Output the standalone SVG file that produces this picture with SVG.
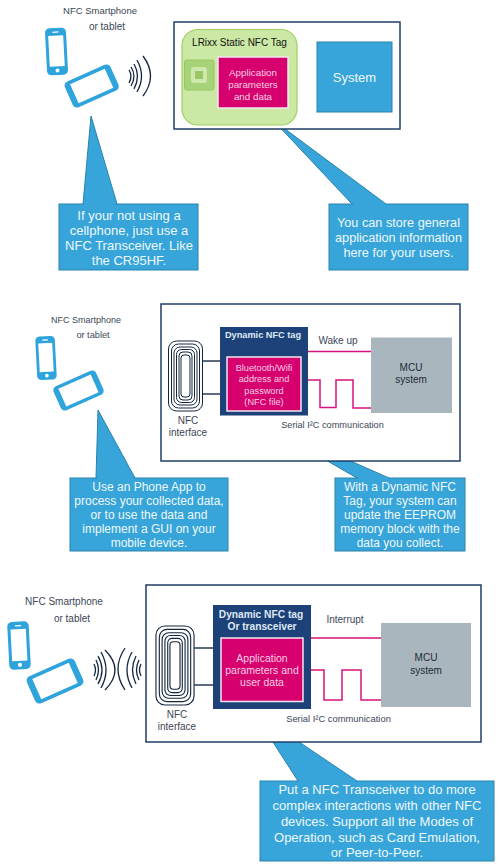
<svg xmlns="http://www.w3.org/2000/svg" xmlns:xlink="http://www.w3.org/1999/xlink" width="500" height="868" viewBox="0 0 500 868">
<style>
text{font-family:"Liberation Sans",Arial,sans-serif;text-anchor:middle}
.frame{fill:#fff;stroke:#1f3f66;stroke-width:1.5}
.call{fill:#37a5da;stroke:#2a83ad;stroke-width:1}
.ct{fill:#eef8fc;font-size:13px}
.cs{fill:#eef8fc;font-size:12px}
.lbl{fill:#3c4656;font-size:10px}
.lb9{fill:#3c4656;font-size:9.2px}
.dark{fill:#1c4279}
.mag{fill:#d6006f;stroke:#f2e6ee;stroke-width:1.5}
.mt{fill:#f6cfe2;font-size:10.5px}
.mt9{fill:#f6cfe2;font-size:9.2px}
.mcu{fill:#a9b6be}
.wire{fill:none;stroke:#2a3a55;stroke-width:1.5}
.pink{fill:none;stroke:#d6127f;stroke-width:1.5}
.wave{fill:none;stroke:#14263f;stroke-width:1.3}
.coil{fill:none;stroke:#14263f;stroke-width:1}
</style>
<defs>
<g id="phone">
<rect x="-10.500" y="-23.500" width="21" height="47" rx="4.500" fill="#2ea3dc"/>
<rect x="-7.500" y="-16" width="15" height="31" fill="#fff"/>
<circle cx="0" cy="19" r="2" fill="#fff"/>
<rect x="-3" y="-20" width="6" height="1.200" fill="#fff"/>
</g>
<g id="tablet">
<rect x="-25" y="-14" width="50" height="28" rx="4.500" fill="#2ea3dc"/>
<rect x="-19" y="-10.500" width="38" height="21" fill="#fff"/>
</g>
<g id="coil">
<rect x="-17" y="-35" width="34" height="70" rx="8" class="coil"/>
<rect x="-14" y="-32" width="28" height="64" rx="7" class="coil"/>
<rect x="-11.500" y="-29" width="23" height="58" rx="6" class="coil"/>
<rect x="-9" y="-26.500" width="18" height="53" rx="5" class="coil"/>
<rect x="-6.500" y="-24" width="13" height="48" rx="4" class="coil"/>
<rect x="-4.500" y="-21" width="9" height="42" rx="3" class="coil"/>
</g>
</defs>

<g id="connectors">
<path class="call" d="M91 116L83 204H117Z"/>
<path class="call" d="M273 120L352 204H386Z"/>
<path class="call" d="M98 410L96 478H135Z"/>
<path class="call" d="M251 417L357 478H389Z"/>
<path class="call" d="M253 711L298 781H357Z"/>
</g>

<g id="panel1">
<rect class="frame" x="174" y="22" width="226" height="107"/>
</g>
<g id="static-tag">
<rect x="182" y="29.500" width="115" height="95.500" rx="16" fill="#cbe8a4" stroke="#9fcf63" stroke-width="1.200"/>
<text x="239.500" y="46" font-size="10" fill="#111">LRixx Static NFC Tag</text>
</g>
<g id="chip">
<rect x="184.500" y="60" width="29.500" height="30" rx="2" fill="#a8d277" stroke="#97c866"/>
<rect x="191" y="67" width="16" height="16" rx="3" fill="#cfe8ad"/>
<rect x="195" y="71" width="8" height="8" fill="#9cc766"/>
</g>
<g id="app-data">
<rect class="mag" x="218" y="57" width="70" height="51"/>
<text class="mt" style="font-size:9.800px" x="253" y="76">Application</text>
<text class="mt" style="font-size:9.800px" x="253" y="87.500">parameters</text>
<text class="mt" style="font-size:9.800px" x="253" y="99.500">and data</text>
</g>
<g id="system">
<rect x="317" y="42" width="75" height="70" fill="#37a5da" stroke="#2a83ad"/>
<text x="354.500" y="82" font-size="13" fill="#eef8fc">System</text>
</g>
<g id="devices1">
<text class="lbl" style="font-size:9.500px" x="100" y="14">NFC Smartphone</text>
<text class="lbl" x="107" y="30">or tablet</text>
<use xlink:href="#phone" href="#phone" transform="translate(56.500 51.500) rotate(-3)"/>
<use xlink:href="#tablet" href="#tablet" transform="translate(91.700 86) rotate(-24)"/>
<path class="wave" d="M129 70Q133 76 129 83"/>
<path class="wave" d="M131 67Q137 76 131 86"/>
<path class="wave" d="M134 64Q141 76 134 89"/>
<path class="wave" d="M137 60Q146 76 137 92"/>
<path class="wave" d="M143 56Q158 76 143 96"/>
</g>
<g id="callout1">
<rect class="call" x="59" y="204" width="139" height="66"/>
<path fill="#37a5da" d="M84 203H116V205H84Z"/>
<text class="ct" x="129" y="220">If your not using a</text>
<text class="ct" x="129" y="235">cellphone, just use a</text>
<text class="ct" x="129" y="250">NFC Transceiver. Like</text>
<text class="ct" x="129" y="265">the CR95HF.</text>
</g>
<g id="callout2">
<rect class="call" x="329" y="204" width="139" height="66"/>
<path fill="#37a5da" d="M353 203H385V205H353Z"/>
<text class="ct" style="font-size:12.700px" x="398.500" y="227">You can store general</text>
<text class="ct" style="font-size:12.700px" x="398.500" y="242">application information</text>
<text class="ct" style="font-size:12.700px" x="398.500" y="257">here for your users.</text>
</g>

<g id="panel2">
<rect class="frame" x="161" y="304" width="299" height="157"/>
</g>
<g id="coil2">
<use xlink:href="#coil" href="#coil" transform="translate(185.500 376)"/>
<text class="lbl" x="188" y="424">NFC</text>
<text class="lbl" x="188" y="436">interface</text>
<path class="wire" d="M203 361H220M203 394H220"/>
</g>
<g id="dyn-tag">
<rect class="dark" x="220" y="327" width="88" height="88.500"/>
<text x="263" y="338" font-size="9.200" font-weight="bold" fill="#dfe8f2">Dynamic NFC tag</text>
<rect class="mag" x="227" y="357" width="74" height="54"/>
<text class="mt9" x="264" y="371">Bluetooth/Wifi</text>
<text class="mt9" x="264" y="382">address and</text>
<text class="mt9" x="264" y="393.500">password</text>
<text class="mt9" x="264" y="404.500">(NFC file)</text>
</g>
<g id="mcu2">
<rect class="mcu" x="371" y="337.500" width="81" height="75.500"/>
<text x="411" y="371" font-size="10" fill="#222b36">MCU</text>
<text x="411" y="383" font-size="10" fill="#222b36">system</text>
</g>
<g id="signals2">
<path class="pink" d="M308 351.500H371"/>
<path class="pink" d="M308 380H320V407.500H336V380H353V408H371"/>
<text class="lbl" x="338" y="344">Wake up</text>
<text class="lb9" x="332.500" y="428">Serial I²C communication</text>
</g>
<g id="devices2">
<text class="lb9" style="font-size:9px" x="86" y="323">NFC Smartphone</text>
<text class="lb9" x="93" y="338">or tablet</text>
<use xlink:href="#phone" href="#phone" transform="translate(46 358) rotate(-3) scale(.93)"/>
<use xlink:href="#tablet" href="#tablet" transform="translate(78.500 390.500) rotate(-24) scale(.93)"/>
</g>
<g id="callout3">
<rect class="call" x="70" y="478" width="158" height="73"/>
<path fill="#37a5da" d="M97 477H134V479H97Z"/>
<text class="cs" x="149" y="491">Use an Phone App to</text>
<text class="cs" x="149" y="505">process your collected data,</text>
<text class="cs" x="149" y="519">or to use the data and</text>
<text class="cs" x="149" y="533">implement a GUI on your</text>
<text class="cs" x="149" y="547">mobile device.</text>
</g>
<g id="callout4">
<rect class="call" x="335" y="478" width="130" height="73"/>
<path fill="#37a5da" d="M358 477H388V479H358Z"/>
<text class="cs" x="400" y="491">With a Dynamic NFC</text>
<text class="cs" x="400" y="505">Tag, your system can</text>
<text class="cs" x="400" y="519">update the EEPROM</text>
<text class="cs" x="400" y="533">memory block with the</text>
<text class="cs" x="400" y="547">data you collect.</text>
</g>

<g id="panel3">
<rect class="frame" x="146" y="585" width="335" height="157"/>
</g>
<g id="coil3">
<use xlink:href="#coil" href="#coil" transform="translate(175 665.500) scale(1.120 1.130)"/>
<text class="lbl" x="177" y="718">NFC</text>
<text class="lbl" x="177" y="730">interface</text>
<path class="wire" d="M194 648H213M194 685H213"/>
</g>
<g id="dyn-tag3">
<rect class="dark" x="213" y="605" width="98" height="104"/>
<text x="261" y="618" font-size="10.200" font-weight="bold" fill="#dfe8f2">Dynamic NFC tag</text>
<text x="262" y="630" font-size="10.200" font-weight="bold" fill="#dfe8f2">Or transceiver</text>
<rect class="mag" x="221" y="638" width="82" height="63.500"/>
<text class="mt" x="262" y="662">Application</text>
<text class="mt" x="262" y="674">parameters and</text>
<text class="mt" x="262" y="686">user data</text>
</g>
<g id="mcu3">
<rect class="mcu" x="381" y="623" width="90" height="84"/>
<text x="426" y="661" font-size="10" fill="#222b36">MCU</text>
<text x="426" y="674" font-size="10" fill="#222b36">system</text>
</g>
<g id="signals3">
<path class="pink" d="M311 638H381"/>
<path class="pink" d="M311 670H324V700H342V670H361V700H381"/>
<text class="lbl" x="345" y="623">Interrupt</text>
<text class="lb9" style="font-size:9.400px" x="338.500" y="722">Serial I²C communication</text>
</g>
<g id="devices3">
<text class="lbl" x="64" y="605">NFC Smartphone</text>
<text class="lbl" x="72" y="622">or tablet</text>
<use xlink:href="#phone" href="#phone" transform="translate(19 645.500) rotate(-3) scale(1.020)"/>
<use xlink:href="#tablet" href="#tablet" transform="translate(55 681) rotate(-24) scale(1.050)"/>
<path class="wave" d="M94 664Q97 670 94 676"/>
<path class="wave" d="M96 660Q101 670 96 680"/>
<path class="wave" d="M98 656Q106 670 98 684"/>
<path class="wave" d="M101 652Q111 670 101 688"/>
<path class="wave" d="M105 650Q125 670 105 690"/>
<path class="wave" d="M141 664Q138 670 141 676"/>
<path class="wave" d="M139 660Q134 670 139 680"/>
<path class="wave" d="M136 656Q129 670 136 684"/>
<path class="wave" d="M132 652Q122 670 132 688"/>
<path class="wave" d="M125 648Q111 669 125 690"/>
</g>
<g id="callout5">
<rect class="call" x="260" y="781" width="234" height="80"/>
<path fill="#37a5da" d="M299 780H356V782H299Z"/>
<text class="ct" x="377" y="794">Put a NFC Transceiver to do more</text>
<text class="ct" x="377" y="810">complex interactions with other NFC</text>
<text class="ct" x="377" y="826">devices.  Support all the Modes of</text>
<text class="ct" x="377" y="842">Operation, such as Card Emulation,</text>
<text class="ct" x="377" y="857">or Peer-to-Peer.</text>
</g>
</svg>
